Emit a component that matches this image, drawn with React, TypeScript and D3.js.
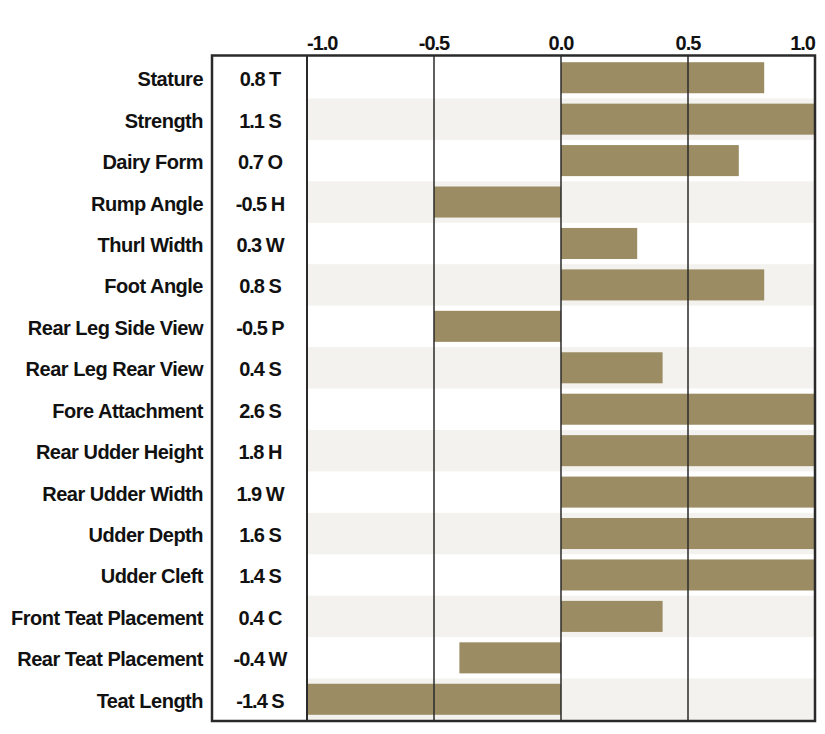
import * as d3 from 'd3';
import { useEffect, useRef } from 'react';

const traits = [
  'Stature',
  'Strength',
  'Dairy Form',
  'Rump Angle',
  'Thurl Width',
  'Foot Angle',
  'Rear Leg Side View',
  'Rear Leg Rear View',
  'Fore Attachment',
  'Rear Udder Height',
  'Rear Udder Width',
  'Udder Depth',
  'Udder Cleft',
  'Front Teat Placement',
  'Rear Teat Placement',
  'Teat Length',
];
const values = [0.8, 1.1, 0.7, -0.5, 0.3, 0.8, -0.5, 0.4, 2.6, 1.8, 1.9, 1.6, 1.4, 0.4, -0.4, -1.4];
const codes = ['T', 'S', 'O', 'H', 'W', 'S', 'P', 'S', 'S', 'H', 'W', 'S', 'S', 'C', 'W', 'S'];
const ticks = [-1.0, -0.5, 0.0, 0.5, 1.0];

export default function App() {
  const w = 825;
  const h = 734;
  const svgRef = useRef<SVGSVGElement>(null);

  useEffect(() => {
    if (svgRef.current == null) {
      return;
    }
    const svg = d3.select(svgRef.current).select('#change');
    svg.selectAll('*').remove();

    const frameLeft = 212;
    const plotLeft = 307;
    const plotRight = 815;
    const top = 57;
    const bottom = 720;
    const font = '"Liberation Sans", Arial, sans-serif';

    const xScale = d3.scaleLinear().domain([-1, 1]).range([plotLeft, plotRight]);
    const yScale = d3.scaleBand().domain(traits).range([top, bottom]);
    const bw = yScale.bandwidth();

    // alternating row shading
    traits.forEach((t, i) => {
      if (i % 2 === 1) {
        svg
          .append('rect')
          .attr('x', plotLeft)
          .attr('y', yScale(t)!)
          .attr('width', plotRight - plotLeft)
          .attr('height', bw)
          .attr('fill', '#f3f2ee');
      }
    });

    // bars (clipped to the axis range)
    traits.forEach((t, i) => {
      const v = Math.max(-1, Math.min(1, values[i]));
      const x0 = xScale(Math.min(0, v));
      const x1 = xScale(Math.max(0, v));
      svg
        .append('rect')
        .attr('x', x0)
        .attr('y', yScale(t)! + 5.2)
        .attr('width', x1 - x0)
        .attr('height', bw - 10.4)
        .attr('fill', '#9c8c64');
    });

    // grid lines
    [-0.5, 0, 0.5].forEach((tk) => {
      svg
        .append('line')
        .attr('x1', xScale(tk))
        .attr('x2', xScale(tk))
        .attr('y1', top - 2)
        .attr('y2', bottom + 1)
        .attr('stroke', '#2a2a2a')
        .attr('stroke-width', 1.5);
    });

    // frame
    svg
      .append('rect')
      .attr('x', frameLeft)
      .attr('y', top - 1.5)
      .attr('width', plotRight - frameLeft)
      .attr('height', bottom - top + 2.5)
      .attr('fill', 'none')
      .attr('stroke', '#2a2a2a')
      .attr('stroke-width', 2.5);
    svg
      .append('line')
      .attr('x1', plotLeft)
      .attr('x2', plotLeft)
      .attr('y1', top - 2)
      .attr('y2', bottom + 1)
      .attr('stroke', '#2a2a2a')
      .attr('stroke-width', 2);

    // tick labels
    ticks.forEach((tk, i) => {
      svg
        .append('text')
        .attr('x', xScale(tk))
        .attr('y', 50)
        .attr('text-anchor', i === 0 ? 'start' : i === ticks.length - 1 ? 'end' : 'middle')
        .attr('font-family', font)
        .attr('font-weight', 'bold')
        .attr('font-size', 20)
        .attr('letter-spacing', -1)
        .attr('fill', '#111')
        .text(tk.toFixed(1));
    });

    // row labels and values
    traits.forEach((t, i) => {
      const cy = yScale(t)! + bw / 2 + 8.5;
      svg
        .append('text')
        .attr('x', 203)
        .attr('y', cy)
        .attr('text-anchor', 'end')
        .attr('font-family', font)
        .attr('font-weight', 'bold')
        .attr('font-size', 20)
        .attr('letter-spacing', -0.5)
        .attr('fill', '#111')
        .text(t);
      svg
        .append('text')
        .attr('x', 260)
        .attr('y', cy)
        .attr('text-anchor', 'middle')
        .attr('font-family', font)
        .attr('font-weight', 'bold')
        .attr('font-size', 20)
        .attr('letter-spacing', -1)
        .attr('fill', '#111')
        .text(`${values[i].toFixed(1)} ${codes[i]}`);
    });
  }, []);

  return (
    <svg
      ref={svgRef}
      width={w}
      height={h}
      style={{ position: 'absolute', left: 0, top: 0, background: '#fff' }}
    >
      <g id='change'></g>
    </svg>
  );
}
